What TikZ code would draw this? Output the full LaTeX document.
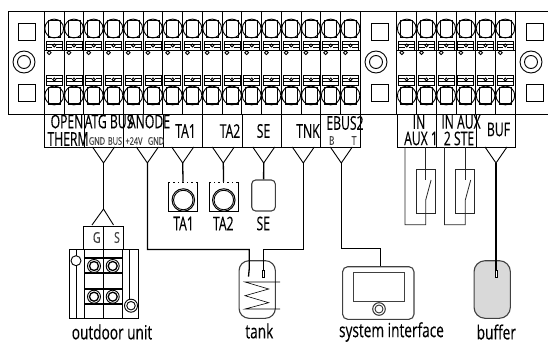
\documentclass[tikz,border=0pt]{standalone}
\usepackage{fontspec}
\setmainfont{Open Sans}
\newfontfamily\narrowfont[FakeStretch=0.64,FakeBold=0.2]{Open Sans}
\newfontfamily\captionfont[FakeStretch=0.7,FakeBold=0.2]{Open Sans}
\usetikzlibrary{arrows}
\usetikzlibrary{shapes}

\begin{document}
\begin{tikzpicture}[x = 1pt, y = -1pt, line width = 0.9pt]
	\useasboundingbox (0,0) rectangle (548,342);
	\tikzstyle{termLabel}=[font = \narrowfont\fontsize{19}{19}\selectfont, inner sep = 0pt]
	\tikzstyle{smallLabel}=[font = \captionfont\fontsize{10.5}{10.5}\selectfont, inner sep = 0pt, text = black!75]
	\tikzstyle{captionLabel}=[font = \captionfont\fontsize{19.5}{19.5}\selectfont, inner sep = 0pt]
	\tikzstyle{labelBox}=[draw, minimum height = 33pt, inner sep = 0pt]
	\tikzstyle{wire}=[line width = 1.3pt]
	\tikzstyle{thinWire}=[line width = 0.8pt, black!85]
	\tikzstyle{sensorBox}=[draw, minimum width = 29pt, minimum height = 29pt, inner sep = 0pt]
	\tikzstyle{ringStyle}=[draw, shape = circle, inner sep = 0pt, fill = white]
	\tikzstyle{roundBox}=[draw = black!75, line width = 1.1pt, inner sep = 0pt]
	\tikzstyle{switchBox}=[draw, thinWire, minimum width = 19pt, minimum height = 44pt, inner sep = 0pt]
	\tikzstyle{squareHole}=[draw, minimum size = 17pt, inner sep = 0pt]
	% panel
	\draw (8,114) -- (8,11) -- (548,11) -- (548,114) -- cycle;
	\node[squareHole] (h1) at (26.5,31.5) {};
	\node[squareHole] (h2) at (26.5,92.5) {};
	\node[squareHole] (h3) at (379.5,31.5) {};
	\node[squareHole] (h4) at (379.5,92.5) {};
	\node[squareHole] (h5) at (534.5,31.5) {};
	\node[squareHole] (h6) at (534.5,92.5) {};
	\foreach \x in {24,376,531}{
		\draw (\x,62) circle (11) (\x,62) circle (6.5);
	}
	% terminals
	\foreach \x in {54.2,73.95,93.7,113.45,133.2,152.95,172.7,192.45,212.2,231.95,251.7,271.45,291.2,310.95,330.7,350.45,406.8,426.5,446.2,465.9,485.6,505.3}{
		\draw (\x-9.87,11) -- (\x-9.87,114) (\x+9.87,11) -- (\x+9.87,114);
		\draw (\x,28.5) circle (9.4) (\x,95.5) circle (9.4);
		\draw (\x-6,20.5) rectangle (\x+6,37) (\x-6,87) rectangle (\x+6,104);
		\draw[line width = 1.2pt] (\x-6,20.5) -- (\x+6,20.5) (\x-6,104) -- (\x+6,104);
		\draw (\x-8,41) rectangle (\x+8,50) (\x-8,75) rectangle (\x+8,85);
		\draw (\x-8,44) -- (\x+8,44) (\x-8,47) -- (\x-2,47) (\x+2,47) -- (\x+8,47);
		\draw (\x-8,81) -- (\x+8,81) (\x-8,78) -- (\x-2,78) (\x+2,78) -- (\x+8,78);
		\draw (\x,45.5) circle (1.5) (\x,79.5) circle (1.5);
		\draw[fill = white] (\x-5,52.7) circle (1.9);
	}
	\draw (44.3,50) -- (360.3,50) (397,50) -- (515.5,50);
	% label row
	\node[labelBox, minimum width = 39.6pt] (openBox) at (64.3,130.5) {};
	\node[labelBox, minimum width = 39.6pt] (atgBox) at (104,130.5) {};
	\node[labelBox, minimum width = 39.4pt] (anodeBox) at (143.5,130.5) {};
	\node[labelBox, minimum width = 39.4pt] (taoneBox) at (183,130.5) {};
	\node[labelBox, minimum width = 39.4pt] (tatwoBox) at (222.4,130.5) {};
	\node[labelBox, minimum width = 39.6pt] (seBox) at (261.9,130.5) {};
	\node[labelBox, minimum width = 39.2pt] (tnkBox) at (301.3,130.5) {};
	\node[labelBox, minimum width = 39.4pt] (ebusBox) at (340.6,130.5) {};
	\node[labelBox, minimum width = 39.6pt] (auxoneBox) at (416.8,130.5) {};
	\node[labelBox, minimum width = 39.4pt] (auxtwoBox) at (456.3,130.5) {};
	\node[labelBox, minimum width = 39.4pt] (bufBox) at (495.7,130.5) {};
	\node[termLabel] (l0) at (67,121.5) {OPEN};
	\node[termLabel] (l1) at (68,139) {THERM};
	\node[termLabel] (l2) at (109,121.5) {ATG BUS};
	\node[smallLabel] (l3) at (97,141) {GND};
	\node[smallLabel] (l4) at (115,141) {BUS};
	\node[termLabel] (l5) at (149,121.5) {ANODE};
	\node[smallLabel] (l6) at (134,141) {+24V};
	\node[smallLabel] (l7) at (156,141) {GND};
	\node[termLabel] (l8) at (185.5,131) {TA1};
	\node[termLabel] (l9) at (230,131) {TA2};
	\node[termLabel] (l10) at (263.5,131) {SE};
	\node[termLabel] (l11) at (308,131) {TNK};
	\node[termLabel] (l12) at (345,123) {EBUS2};
	\node[smallLabel, font = \captionfont\fontsize{12}{12}\selectfont] (l13) at (331.7,140.5) {B};
	\node[smallLabel, font = \captionfont\fontsize{12}{12}\selectfont] (l14) at (354,140.5) {T};
	\node[termLabel] (l15) at (419,122) {IN};
	\node[termLabel] (l16) at (421,138.5) {AUX 1};
	\node[termLabel] (l17) at (461,122) {IN AUX};
	\node[termLabel] (l18) at (459,138.5) {2 STE};
	\node[termLabel] (l19) at (498.5,129.5) {BUF};
	% forks under the label row
	\foreach \n/\x in {atg/103.5, anode/147.4, taone/182.7, tatwo/223.3, se/263.7, tnk/303.3, ebus/341.3, buf/496}{
		\coordinate (\n L) at (\x-11,147);
		\coordinate (\n R) at (\x+11,147);
		\coordinate (\n V) at (\x,163);
		\draw (\n L) -- (\n V) -- (\n R);
	}
	% outdoor unit
	\node[draw, minimum width = 20pt, minimum height = 23pt, inner sep = 0pt] (gTerm) at (93.5,237.5) {};
	\node[draw, minimum width = 20pt, minimum height = 23pt, inner sep = 0pt] (sTerm) at (113.5,237.5) {};
	\node[smallLabel, font = \captionfont\fontsize{15}{15}\selectfont] (gText) at (96.7,237.5) {G};
	\node[smallLabel, font = \captionfont\fontsize{15}{15}\selectfont] (sText) at (117,237.5) {S};
	\node[draw, minimum width = 68.7pt, minimum height = 69pt, inner sep = 0pt] (outdoor) at (103.65,283.5) {};
	\coordinate (forkTop) at (103.5,209);
	\coordinate (forkG) at (92,225);
	\coordinate (forkS) at (113.5,225);
	\draw[wire] (atgV) -- (forkTop);
	\draw (forkG) -- (forkTop) -- (forkS);
	\draw (76,249) -- (76,318) (84.7,249) -- (84.7,318) (103.3,249) -- (103.3,318) (122,249) -- (122,318) (129,249) -- (129,300);
	\draw[wire] (84.7,258) -- (121.7,258) (84.7,273) -- (121.7,273) (84.7,289) -- (121.7,289) (84.7,304) -- (121.7,304);
	\foreach \n/\x/\y in {sa/94/266, sb/112.7/266, sc/94/296.7, sd/112.7/296.7}{
		\node[ringStyle, minimum size = 13pt] (\n) at (\x,\y) {};
		\node[ringStyle, minimum size = 9pt, line width = 1.3pt, fill = none] at (\x,\y) {};
	}
	\node[ringStyle, minimum size = 10pt] (clipA) at (76,260.7) {};
	\node[ringStyle, minimum size = 13pt] (clipB) at (131,305.7) {};
	\node[ringStyle, minimum size = 8.5pt] at (131,305.7) {};
	\node[captionLabel] (outdoorText) at (112,332) {outdoor unit};
	% sensors
	\node[sensorBox] (taoneS) at (183.3,196.7) {};
	\node[sensorBox] (tatwoS) at (223.8,196.7) {};
	\foreach \n/\x in {taoneS/183.3, tatwoS/223.8}{
		\draw[line width = 1pt, dash pattern = on 3pt off 1.5pt, white] (\x-13,182.3) -- (\x+13,182.3);
		\node[ringStyle, minimum size = 22.5pt, line width = 1pt] at (\x,200) {};
		\node[ringStyle, minimum size = 19.5pt] at (\x,200) {};
	}
	\node[roundBox, rounded corners = 4pt, minimum width = 23.6pt, minimum height = 31pt] (seS) at (263.5,195.5) {};
	\draw[wire] (taoneV) -- (taoneS);
	\draw[wire] (tatwoV) -- (tatwoS);
	\draw[wire] (seV) -- (seS);
	\node[termLabel] (ta1Text) at (183.5,223.5) {TA1};
	\node[termLabel] (ta2Text) at (223.3,223.5) {TA2};
	\node[termLabel] (seText) at (263.3,223.5) {SE};
	% tank
	\node[roundBox, rounded corners = 10pt, minimum width = 36.3pt, minimum height = 57.6pt] (tank) at (257.2,289.5) {};
	\coordinate (anodeBend) at (147.4,249.5);
	\coordinate (anodeDrop) at (249.3,249.5);
	\coordinate (anodeEnd) at (248.5,276.7);
	\coordinate (tnkBend) at (303.3,249.5);
	\coordinate (tnkDrop) at (263.3,249.5);
	\coordinate (tnkEnd) at (263.3,270);
	\draw[wire] (anodeV) -- (anodeBend) -- (anodeDrop) -- (249.3,268) -- (anodeEnd);
	\draw[wire] (tnkV) -- (tnkBend) -- (tnkDrop) -- (tnkEnd);
	\draw[line width = 0.7pt] (262,270) rectangle (264.6,277);
	\draw[line width = 0.6pt] (280,282) -- (245,282) -- (268.7,289) -- (245,295.7) -- (268.7,302.7) -- (245,309) -- (280,309);
	\node[captionLabel] (tankText) at (259.3,331) {tank};
	% system interface
	\node[roundBox, rounded corners = 5pt, minimum width = 71.3pt, minimum height = 52.6pt] (sysBox) at (378.3,293) {};
	\node[draw = black!75, minimum width = 51pt, minimum height = 28.7pt, inner sep = 0pt] (screen) at (378.8,286.7) {};
	\node[ringStyle, line width = 1pt, draw = black!80, minimum size = 12.6pt] (knobA) at (379,309) {};
	\node[ringStyle, draw = black!80, minimum size = 8pt] (knobB) at (379,309) {};
	\coordinate (ebusBend) at (341.3,248.5);
	\coordinate (ebusDrop) at (380.7,248.5);
	\draw[wire] (ebusV) -- (ebusBend) -- (ebusDrop) -- (sysBox.north -| ebusDrop);
	\node[captionLabel] (sysText) at (391.5,332) {system interface};
	% aux switches
	\node[switchBox] (swOne) at (425.8,191.2) {};
	\node[switchBox] (swTwo) at (465.2,191.2) {};
	\foreach \n/\a/\b in {one/405/425.7, two/444.5/465.3}{
		\coordinate (aux\n A) at (\a,147);
		\coordinate (aux\n B) at (\b,147);
		\coordinate (aux\n C) at (\a,224.7);
		\coordinate (aux\n D) at (\b,224.7);
		\draw[thinWire] (aux\n A) -- (aux\n C) -- (aux\n D) -- (\b,200) -- (\b+5.4,180);
		\draw[thinWire] (aux\n B) -- (\b,180);
	}
	% buffer
	\node[roundBox, rounded corners = 11pt, fill = black!15, minimum width = 36.3pt, minimum height = 57.6pt] (buffer) at (492.2,289.5) {};
	\coordinate (bufEnd) at (496,270);
	\draw[wire] (bufV) -- (bufEnd);
	\draw[line width = 0.7pt, fill = white] (494.9,270) rectangle (497.4,277);
	\node[captionLabel] (bufText) at (496.3,332) {buffer};
\end{tikzpicture}
\end{document}
